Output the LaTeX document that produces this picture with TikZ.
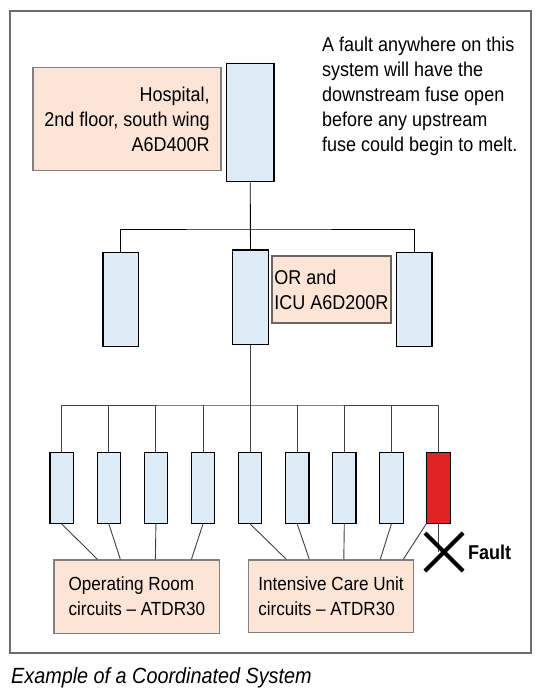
\documentclass[tikz,border=0pt]{standalone}
\usepackage{fontspec}
\setmainfont{Liberation Sans}[FakeStretch=0.9]
\usetikzlibrary{calc}
\definecolor{fuseblue}{HTML}{DDEBF7}
\definecolor{boxpeach}{HTML}{FCE4D6}
\definecolor{faultred}{HTML}{E02424}
\definecolor{framegray}{HTML}{6E6E6E}
\begin{document}
\begin{tikzpicture}[x=1pt,y=-1pt,
    fuse/.style={draw=black,fill=fuseblue,line width=1.2pt,inner sep=0pt},
    labelbox/.style={draw=black!50,fill=boxpeach,line width=1.3pt,inner sep=0pt,font=\fontsize{20}{25}\selectfont},
    wire/.style={black!75,line width=0.9pt}]
    \useasboundingbox (0,0) rectangle (540,690);
    \fill[white] (0,0) rectangle (540,690);
    \draw[framegray,line width=2pt] (9.7,11) rectangle (531,653);
    \node[fuse,minimum width=47.5,minimum height=118.4] (main) at (250.2,122.5) {};
    \node[fuse,minimum width=35.5,minimum height=94.4] (sub1) at (120.8,299.5) {};
    \node[fuse,minimum width=35.5,minimum height=94.4] (sub2) at (250.5,297.2) {};
    \node[fuse,minimum width=35.5,minimum height=94.4] (sub3) at (414.2,299.5) {};
    \foreach \i in {1,...,8}
        \node[fuse,minimum width=23.4,minimum height=71] (br\i) at ({61.7+47.1*(\i-1)},487.8) {};
    \node[fuse,fill=faultred,minimum width=23.4,minimum height=71] (br9) at (438.5,487.8) {};
    \node[labelbox,minimum width=188,minimum height=103.4,align=right] (hosp) at (127,119) {Hospital,\\2nd floor, south wing\\A6D400R};
    \node[labelbox,draw=black!60,line width=2pt,minimum width=118.3,minimum height=67.3,align=left] (orbox) at (331.5,289.7) {OR and\\ICU A6D200R};
    \node[labelbox,font=\fontsize{19}{25}\selectfont,minimum width=165.7,minimum height=73.3,align=left] (orc) at (136.9,596.7) {Operating Room\\circuits -- ATDR30};
    \node[labelbox,font=\fontsize{19}{25}\selectfont,minimum width=165.5,minimum height=72.7,align=left] (icu) at (331,596.3) {Intensive Care Unit\\circuits -- ATDR30};
    \node[anchor=west,inner sep=0pt,align=left,font=\fontsize{20}{25}\selectfont] (note) at (322,96.7) {A fault anywhere on this\\system will have the\\downstream fuse open\\before any upstream\\fuse could begin to melt.};
    \coordinate (bus1) at (250.2,229);
    \coordinate (bus2) at (250.5,405);
    \draw[wire,black] (main.south) -- (sub2.north);
    \draw[wire,black] (sub1.north) |- (bus1) -| (sub3.north);
    \draw[wire] (sub2.south) -- (bus2);
    \draw[wire] (br1.north) |- (bus2) -| (br9.north);
    \foreach \i in {2,...,8}
        \draw[wire] (br\i.north) -- (br\i.north |- bus2);
    \foreach \i/\d in {1/44,2/67,3/102,4/138}
        \draw[wire] (br\i.south) -- ($(orc.north west)+(\d,0)$);
    \foreach \i/\d in {5/38.7,6/61.7,7/96.2,8/132.7}
        \draw[wire] (br\i.south) -- ($(icu.north west)+(\d,0)$);
    \draw[wire] (br9.south west) -- ($(icu.north west)+(155.7,0)$);
    \coordinate (fx) at (444,552);
    \draw[wire] (br9.south) -- (br9.south |- fx);
    \draw[line width=4pt] ($(fx)+(-19,-19)$) -- ($(fx)+(19,19)$) ($(fx)+(-19,19)$) -- ($(fx)+(19,-19)$);
    \node[anchor=west,inner sep=0pt,font=\fontsize{20}{24}\selectfont\bfseries] (fault) at (468,552) {Fault};
    \node[anchor=base west,inner sep=0pt,font=\fontsize{22}{26}\selectfont\itshape] (cap) at (11,683) {Example of a Coordinated System};
\end{tikzpicture}
\end{document}
